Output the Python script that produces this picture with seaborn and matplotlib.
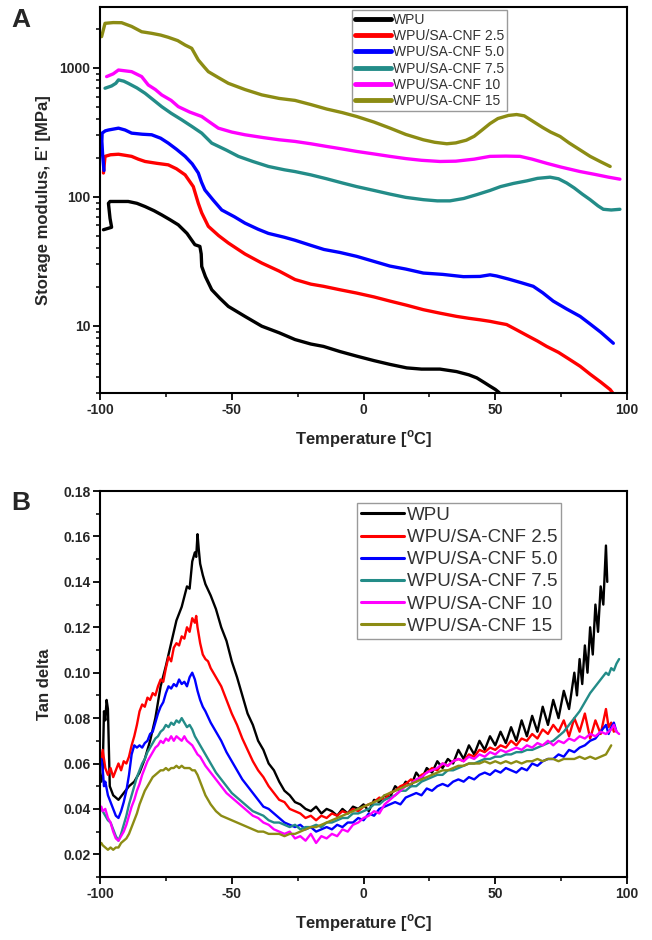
import matplotlib
matplotlib.use("Agg")
import matplotlib.pyplot as plt
import matplotlib.ticker as mticker
import seaborn as sns
import pandas as pd

SAMPLES = ["WPU", "WPU/SA-CNF 2.5", "WPU/SA-CNF 5.0",
           "WPU/SA-CNF 7.5", "WPU/SA-CNF 10", "WPU/SA-CNF 15"]
COLORS = ["#000000", "#ff0000", "#0000ff", "#238c88", "#ff00ff", "#8c8c14"]

X_TICKS = [-100, -50, 0, 50, 100]
E_TICKS = [10, 100, 1000]
TAN_TICKS = [0.02, 0.04, 0.06, 0.08, 0.10, 0.12, 0.14, 0.16, 0.18]

# storage modulus E' [MPa] vs temperature, (T, E')
E_WPU = [(-98.7, 55.5), (-95.6, 58), (-96.2, 68), (-96.8, 89), (-96.2, 92), (-93, 92),
         (-89.3, 92), (-86, 89), (-82.9, 84), (-79.5, 78), (-76.6, 72.4), (-73.5, 66.5),
         (-70.3, 60.6), (-67, 52), (-64, 42.5), (-62.1, 41.2), (-61.6, 36), (-61.4, 28.8),
         (-60, 24), (-57.6, 19), (-54.5, 16.3), (-51.3, 14.1), (-45, 11.8), (-38.6, 9.9),
         (-32, 8.8), (-26, 7.8), (-20, 7.2), (-15.2, 6.9), (-9, 6.3), (-2.6, 5.8),
         (4, 5.35), (10.1, 5.0), (16.4, 4.7), (22, 4.6), (29, 4.6), (35.3, 4.4),
         (40, 4.15), (43, 3.93), (46, 3.6), (48, 3.39), (50, 3.2), (51.5, 3.02)]
E_25 = [(-98.7, 153), (-98.1, 206), (-96, 212), (-93, 214), (-90.5, 210), (-88, 206),
        (-85.5, 196), (-82.9, 188), (-78.5, 182), (-74.1, 177), (-71, 165), (-67.7, 148),
        (-64.6, 120), (-62.7, 89), (-61.4, 75), (-58.9, 59), (-55, 50), (-51.3, 43.8),
        (-45, 36), (-38.6, 30.6), (-32, 26.5), (-26, 22.8), (-20, 21), (-15.2, 20.2),
        (-9, 19), (-2.6, 17.9), (4, 16.7), (10.1, 15.5), (16.4, 14.4), (22.7, 13.3),
        (29, 12.5), (35.3, 11.8), (40, 11.4), (44.2, 11.1), (48, 10.8), (51, 10.5),
        (54.3, 10.2), (58, 9.3), (62, 8.4), (66, 7.6), (69.5, 6.9), (74, 6.2), (78, 5.5),
        (82.2, 4.84), (86, 4.2), (90, 3.65), (93.6, 3.19), (94.5, 3.02)]
E_50 = [(-98.5, 160), (-99, 210), (-99.3, 270), (-99.2, 312), (-98, 325), (-96.8, 330),
        (-93, 341), (-90.5, 330), (-88, 312), (-84, 306), (-80.4, 303), (-77, 285),
        (-74.1, 261), (-71, 234), (-67.7, 206), (-65, 180), (-62.7, 153), (-61.5, 130),
        (-60.2, 113), (-57, 94), (-53.8, 79), (-49, 70), (-45, 62.5), (-40, 56),
        (-36.1, 52), (-30, 48.5), (-26, 46), (-20, 42), (-15, 39), (-9, 37), (-2.6, 34.5),
        (4, 31.5), (10, 29), (16, 27.5), (22.7, 25.6), (30, 25), (37.9, 24), (44.2, 24.1),
        (48, 24.8), (50.5, 24.3), (55, 23), (60, 21.5), (64.4, 20.2), (68, 18), (72, 15.5),
        (77, 13.5), (82.2, 11.8), (86, 10.3), (90, 8.9), (94.8, 7.3)]
E_75 = [(-98.1, 696), (-95.6, 725), (-94, 760), (-93, 808), (-91, 790), (-89.3, 760),
        (-86, 700), (-82.9, 636), (-80, 570), (-76.6, 501), (-73, 445), (-69, 396),
        (-65, 350), (-61.4, 312), (-57.6, 261), (-52, 230), (-47.5, 206), (-42, 188),
        (-36.1, 172), (-30, 162), (-26, 157), (-20, 148), (-14, 138), (-8, 128),
        (-2.6, 120), (4, 112), (10, 105), (16, 99), (22.7, 95), (28, 93), (32.8, 93),
        (38, 97), (43, 104), (48, 112), (52, 120), (56.9, 127), (62, 133), (66, 139),
        (70.8, 142), (74, 138), (77.1, 128), (80, 117), (83, 105), (86, 95), (89, 85),
        (91, 80), (94, 79), (97.3, 80)]
E_10 = [(-97.5, 857), (-95, 900), (-93, 964), (-90.5, 950), (-88, 936), (-84.2, 857),
        (-81.7, 738), (-79, 680), (-76.6, 618), (-73, 560), (-70.3, 501), (-66, 455),
        (-61.4, 420), (-58, 375), (-55.1, 341), (-50, 318), (-45, 303), (-38, 288),
        (-32, 277), (-26, 269), (-20, 258), (-14, 246), (-8, 235), (-2.6, 225), (4, 215),
        (10, 206), (16, 198), (22, 192), (29, 188), (35, 189), (42, 196), (48, 206),
        (54, 207), (59.4, 206), (64, 196), (69.5, 182), (75, 170), (82.2, 157), (88, 149),
        (93, 142), (97.3, 137)]
E_15 = [(-99.4, 1750), (-98.1, 2220), (-95, 2250), (-91.8, 2245), (-88, 2100),
        (-84.2, 1910), (-80.4, 1857), (-77, 1800), (-74.1, 1730), (-70.5, 1630),
        (-67.7, 1506), (-65.2, 1421), (-62.7, 1153), (-60.5, 1020), (-58.9, 936),
        (-55, 840), (-51.3, 760), (-45, 680), (-38.6, 618), (-32, 580), (-26, 560),
        (-20, 520), (-14, 480), (-8, 450), (-2.6, 420), (4, 380), (10.1, 341), (16, 305),
        (22.7, 277), (27, 265), (31.6, 258), (35, 262), (39, 275), (42, 295),
        (45, 330), (48, 370), (51, 405), (55, 428), (58.1, 435), (61, 425),
        (64.4, 384), (68, 345), (71, 318), (74.6, 294), (78, 262), (82.2, 231), (86, 206),
        (90, 187), (93.6, 172)]

# tan delta vs temperature, (T, tan d)
TAN_WPU = [(-99.5, 0.052), (-99, 0.056), (-98.5, 0.083), (-98, 0.079), (-97.5, 0.088),
           (-97, 0.084), (-96.5, 0.06), (-96.3, 0.05), (-95, 0.046), (-93, 0.044),
           (-91, 0.047), (-89, 0.05), (-87, 0.052), (-85, 0.056), (-83, 0.062), (-81, 0.07),
           (-79, 0.08), (-77, 0.094), (-75, 0.103), (-73, 0.113), (-71, 0.123),
           (-69, 0.129), (-67, 0.138), (-66, 0.137), (-65, 0.149), (-64, 0.153),
           (-63.5, 0.151), (-63, 0.161), (-62.5, 0.154), (-62, 0.148), (-61, 0.143),
           (-60, 0.139), (-58, 0.134), (-56, 0.128), (-54, 0.12), (-52, 0.114), (-50, 0.105),
           (-48, 0.098), (-46, 0.09), (-44, 0.082), (-42, 0.077), (-40, 0.07), (-38, 0.066),
           (-36, 0.06), (-34, 0.057), (-32, 0.052), (-30, 0.048), (-28, 0.046), (-26, 0.043),
           (-24, 0.042), (-22, 0.04), (-20, 0.039), (-18, 0.041), (-16, 0.038), (-14, 0.04),
           (-12, 0.039), (-10, 0.037), (-8, 0.04), (-6, 0.038), (-4, 0.041), (-2, 0.04),
           (0, 0.042), (2, 0.039), (4, 0.044), (6, 0.043), (8, 0.046), (10, 0.045),
           (12, 0.05), (14, 0.048), (16, 0.052), (18, 0.05), (20, 0.056), (22, 0.053),
           (24, 0.058), (26, 0.056), (28, 0.061), (30, 0.058), (32, 0.062), (34, 0.06),
           (36, 0.066), (38, 0.062), (40, 0.068), (42, 0.064), (44, 0.07), (46, 0.066),
           (48, 0.072), (50, 0.068), (52, 0.074), (54, 0.069), (56, 0.076), (58, 0.07),
           (60, 0.079), (62, 0.072), (64, 0.081), (66, 0.074), (68, 0.085), (70, 0.077),
           (72, 0.088), (74, 0.08), (76, 0.092), (78, 0.084), (80, 0.1), (81, 0.09),
           (82, 0.106), (83, 0.095), (84, 0.112), (85, 0.1), (86, 0.12), (87, 0.108),
           (88, 0.13), (89, 0.118), (90, 0.138), (91, 0.13), (92, 0.156), (92.5, 0.14)]
TAN_25 = [(-99.5, 0.062), (-99, 0.066), (-98, 0.058), (-97, 0.055), (-96, 0.058),
          (-95, 0.054), (-94, 0.057), (-93, 0.06), (-92, 0.057), (-91, 0.061), (-90, 0.06),
          (-89, 0.063), (-88, 0.068), (-87, 0.072), (-86, 0.077), (-85, 0.083),
          (-84, 0.086), (-83, 0.085), (-82, 0.089), (-81, 0.088), (-80, 0.091), (-79, 0.09),
          (-78, 0.094), (-77, 0.097), (-76, 0.096), (-75, 0.102), (-74, 0.107),
          (-73, 0.105), (-72, 0.111), (-71, 0.113), (-70, 0.112), (-69, 0.116),
          (-68, 0.115), (-67, 0.12), (-66, 0.118), (-65, 0.124), (-64, 0.122),
          (-63.5, 0.125), (-63, 0.12), (-62, 0.113), (-61, 0.108), (-60, 0.106),
          (-59, 0.105), (-58, 0.102), (-56, 0.098), (-54, 0.094), (-52, 0.088), (-50, 0.082),
          (-48, 0.077), (-46, 0.071), (-44, 0.066), (-42, 0.061), (-40, 0.057), (-38, 0.054),
          (-36, 0.05), (-34, 0.047), (-32, 0.044), (-30, 0.043), (-28, 0.04), (-26, 0.039),
          (-24, 0.038), (-22, 0.036), (-20, 0.037), (-18, 0.035), (-16, 0.037), (-14, 0.036),
          (-12, 0.038), (-10, 0.037), (-8, 0.039), (-6, 0.038), (-4, 0.04), (-2, 0.039),
          (0, 0.041), (2, 0.042), (4, 0.043), (6, 0.045), (8, 0.044), (10, 0.047),
          (12, 0.048), (14, 0.05), (16, 0.051), (18, 0.053), (20, 0.052), (22, 0.055),
          (24, 0.056), (26, 0.058), (28, 0.057), (30, 0.06), (32, 0.059), (34, 0.061),
          (36, 0.062), (38, 0.061), (40, 0.064), (42, 0.063), (44, 0.066), (46, 0.065),
          (48, 0.067), (50, 0.066), (52, 0.068), (54, 0.067), (56, 0.07), (58, 0.068),
          (60, 0.071), (62, 0.07), (64, 0.073), (66, 0.071), (68, 0.075), (70, 0.073),
          (72, 0.077), (74, 0.074), (76, 0.079), (78, 0.072), (80, 0.08), (82, 0.074),
          (84, 0.082), (86, 0.071), (88, 0.079), (90, 0.073), (92, 0.084), (93, 0.076),
          (94, 0.078), (95, 0.074)]
TAN_50 = [(-99.5, 0.062), (-99, 0.058), (-98.5, 0.05), (-98, 0.052), (-97, 0.046),
          (-96, 0.043), (-95, 0.04), (-94, 0.037), (-93, 0.036), (-92, 0.039), (-91, 0.043),
          (-90, 0.048), (-89, 0.055), (-88, 0.064), (-87, 0.068), (-86, 0.067),
          (-85, 0.068), (-84, 0.067), (-83, 0.069), (-82, 0.07), (-81, 0.073), (-80, 0.074),
          (-79, 0.078), (-78, 0.082), (-77, 0.085), (-76, 0.087), (-75, 0.091),
          (-74, 0.094), (-73, 0.093), (-72, 0.095), (-71, 0.094), (-70, 0.097),
          (-69, 0.095), (-68, 0.096), (-67, 0.094), (-66, 0.098), (-65, 0.1), (-64, 0.097),
          (-63, 0.092), (-62, 0.088), (-61, 0.085), (-60, 0.083), (-58, 0.078),
          (-56, 0.074), (-54, 0.07), (-52, 0.065), (-50, 0.061), (-48, 0.057), (-46, 0.053),
          (-44, 0.05), (-42, 0.047), (-40, 0.044), (-38, 0.041), (-36, 0.04), (-34, 0.038),
          (-32, 0.036), (-30, 0.034), (-28, 0.033), (-26, 0.032), (-24, 0.033), (-22, 0.031),
          (-20, 0.032), (-18, 0.03), (-16, 0.031), (-14, 0.032), (-12, 0.031), (-10, 0.033),
          (-8, 0.032), (-6, 0.034), (-4, 0.034), (-2, 0.036), (0, 0.035), (2, 0.038),
          (4, 0.037), (6, 0.04), (8, 0.041), (10, 0.042), (12, 0.043), (14, 0.042),
          (16, 0.045), (18, 0.046), (20, 0.047), (22, 0.046), (24, 0.049), (26, 0.048),
          (28, 0.05), (30, 0.051), (32, 0.05), (34, 0.052), (36, 0.053), (38, 0.052),
          (40, 0.054), (42, 0.053), (44, 0.055), (46, 0.056), (48, 0.055), (50, 0.057),
          (52, 0.056), (54, 0.058), (56, 0.057), (58, 0.056), (60, 0.058), (62, 0.057),
          (64, 0.06), (66, 0.059), (68, 0.061), (70, 0.062), (72, 0.062), (74, 0.064),
          (76, 0.063), (78, 0.066), (80, 0.065), (82, 0.067), (84, 0.068), (86, 0.07),
          (88, 0.071), (90, 0.074), (92, 0.077), (93, 0.073), (94, 0.076), (95, 0.078),
          (96, 0.074)]
TAN_75 = [(-99.5, 0.04), (-99, 0.039), (-98, 0.037), (-97, 0.035), (-96, 0.034),
          (-95, 0.031), (-94, 0.028), (-93, 0.026), (-92, 0.029), (-91, 0.033), (-90, 0.037),
          (-89, 0.042), (-88, 0.046), (-87, 0.05), (-86, 0.054), (-85, 0.057), (-84, 0.06),
          (-83, 0.062), (-82, 0.065), (-81, 0.067), (-80, 0.069), (-79, 0.071), (-78, 0.072),
          (-77, 0.074), (-76, 0.075), (-75, 0.077), (-74, 0.076), (-73, 0.078), (-72, 0.077),
          (-71, 0.079), (-70, 0.078), (-69, 0.08), (-68, 0.078), (-67, 0.076), (-66, 0.077),
          (-65, 0.075), (-64, 0.072), (-63, 0.07), (-62, 0.068), (-61, 0.066), (-60, 0.064),
          (-58, 0.06), (-56, 0.056), (-54, 0.053), (-52, 0.05), (-50, 0.047), (-48, 0.045),
          (-46, 0.043), (-44, 0.041), (-42, 0.039), (-40, 0.038), (-38, 0.037), (-36, 0.035),
          (-34, 0.034), (-32, 0.034), (-30, 0.033), (-28, 0.032), (-26, 0.033), (-24, 0.031),
          (-22, 0.032), (-20, 0.032), (-18, 0.033), (-16, 0.032), (-14, 0.034), (-12, 0.034),
          (-10, 0.035), (-8, 0.036), (-6, 0.036), (-4, 0.038), (-2, 0.038), (0, 0.039),
          (2, 0.04), (4, 0.042), (6, 0.042), (8, 0.044), (10, 0.045), (12, 0.046),
          (14, 0.048), (16, 0.048), (18, 0.05), (20, 0.05), (22, 0.052), (24, 0.053),
          (26, 0.054), (28, 0.055), (30, 0.055), (32, 0.057), (34, 0.057), (36, 0.058),
          (38, 0.059), (40, 0.06), (42, 0.06), (44, 0.061), (46, 0.062), (48, 0.062),
          (50, 0.063), (52, 0.063), (54, 0.064), (56, 0.064), (58, 0.065), (60, 0.065),
          (62, 0.066), (64, 0.066), (66, 0.067), (68, 0.068), (70, 0.069), (72, 0.07),
          (74, 0.072), (76, 0.074), (78, 0.077), (80, 0.08), (82, 0.083), (84, 0.087),
          (86, 0.091), (88, 0.094), (90, 0.097), (92, 0.1), (93, 0.099), (94, 0.102),
          (95, 0.101), (96, 0.104), (97, 0.106)]
TAN_10 = [(-99.5, 0.041), (-99, 0.039), (-98, 0.04), (-97, 0.036), (-96, 0.034),
          (-95, 0.03), (-94, 0.027), (-93, 0.026), (-92, 0.028), (-91, 0.03), (-90, 0.033),
          (-89, 0.037), (-88, 0.041), (-87, 0.044), (-86, 0.048), (-85, 0.051), (-84, 0.055),
          (-83, 0.058), (-82, 0.061), (-81, 0.063), (-80, 0.065), (-79, 0.067), (-78, 0.068),
          (-77, 0.07), (-76, 0.069), (-75, 0.071), (-74, 0.07), (-73, 0.072), (-72, 0.07),
          (-71, 0.072), (-70, 0.071), (-69, 0.07), (-68, 0.072), (-67, 0.07), (-66, 0.069),
          (-65, 0.068), (-64, 0.066), (-63, 0.064), (-62, 0.063), (-61, 0.061), (-60, 0.059),
          (-58, 0.056), (-56, 0.053), (-54, 0.05), (-52, 0.047), (-50, 0.045), (-48, 0.043),
          (-46, 0.041), (-44, 0.039), (-42, 0.037), (-40, 0.036), (-38, 0.034), (-36, 0.033),
          (-34, 0.031), (-32, 0.03), (-30, 0.029), (-28, 0.03), (-26, 0.027), (-24, 0.028),
          (-22, 0.026), (-20, 0.029), (-18, 0.025), (-16, 0.028), (-14, 0.027), (-12, 0.029),
          (-10, 0.028), (-8, 0.031), (-6, 0.03), (-4, 0.033), (-2, 0.034), (0, 0.036),
          (2, 0.037), (4, 0.039), (6, 0.038), (8, 0.042), (10, 0.044), (12, 0.046),
          (14, 0.048), (16, 0.05), (18, 0.051), (20, 0.053), (22, 0.054), (24, 0.056),
          (26, 0.057), (28, 0.058), (30, 0.06), (32, 0.059), (34, 0.061), (36, 0.062),
          (38, 0.061), (40, 0.063), (42, 0.062), (44, 0.064), (46, 0.063), (48, 0.065),
          (50, 0.064), (52, 0.066), (54, 0.065), (56, 0.066), (58, 0.067), (60, 0.066),
          (62, 0.068), (64, 0.067), (66, 0.069), (68, 0.068), (70, 0.07), (72, 0.068),
          (74, 0.07), (76, 0.069), (78, 0.071), (80, 0.07), (82, 0.072), (84, 0.071),
          (86, 0.073), (88, 0.072), (90, 0.074), (92, 0.073), (94, 0.075), (95, 0.077),
          (96, 0.074), (97, 0.073)]
TAN_15 = [(-99.5, 0.025), (-99, 0.024), (-98, 0.023), (-97, 0.022), (-96, 0.023),
          (-95, 0.022), (-94, 0.023), (-93, 0.023), (-92, 0.025), (-91, 0.026), (-90, 0.027),
          (-89, 0.029), (-88, 0.032), (-87, 0.035), (-86, 0.038), (-85, 0.042), (-84, 0.045),
          (-83, 0.048), (-82, 0.05), (-81, 0.052), (-80, 0.054), (-79, 0.055), (-78, 0.056),
          (-77, 0.057), (-76, 0.057), (-75, 0.058), (-74, 0.057), (-73, 0.058), (-72, 0.058),
          (-71, 0.059), (-70, 0.058), (-69, 0.059), (-68, 0.058), (-67, 0.058), (-66, 0.058),
          (-65, 0.057), (-64, 0.057), (-63, 0.055), (-62, 0.052), (-61, 0.049), (-60, 0.046),
          (-58, 0.042), (-56, 0.039), (-54, 0.037), (-52, 0.036), (-50, 0.035), (-48, 0.034),
          (-46, 0.033), (-44, 0.032), (-42, 0.031), (-40, 0.03), (-38, 0.03), (-36, 0.029),
          (-34, 0.029), (-32, 0.029), (-30, 0.028), (-28, 0.029), (-26, 0.029), (-24, 0.03),
          (-22, 0.031), (-20, 0.032), (-18, 0.032), (-16, 0.033), (-14, 0.034), (-12, 0.035),
          (-10, 0.036), (-8, 0.037), (-6, 0.038), (-4, 0.039), (-2, 0.04), (0, 0.041),
          (2, 0.042), (4, 0.043), (6, 0.044), (8, 0.046), (10, 0.047), (12, 0.048),
          (14, 0.049), (16, 0.05), (18, 0.051), (20, 0.052), (22, 0.053), (24, 0.054),
          (26, 0.055), (28, 0.056), (30, 0.057), (32, 0.057), (34, 0.058), (36, 0.059),
          (38, 0.059), (40, 0.06), (42, 0.06), (44, 0.06), (46, 0.061), (48, 0.06),
          (50, 0.061), (52, 0.06), (54, 0.061), (56, 0.06), (58, 0.061), (60, 0.06),
          (62, 0.061), (64, 0.061), (66, 0.062), (68, 0.061), (70, 0.062), (72, 0.062),
          (74, 0.061), (76, 0.062), (78, 0.062), (80, 0.062), (82, 0.063), (84, 0.062),
          (86, 0.063), (88, 0.062), (90, 0.063), (92, 0.064), (93, 0.066), (94, 0.068)]


def long_frame(series, value_col):
    parts = []
    for name, pts in zip(SAMPLES, series):
        d = pd.DataFrame(pts, columns=["T", value_col])
        d["sample"] = name
        parts.append(d)
    return pd.concat(parts, ignore_index=True)


def style_axis(ax):
    for s in ax.spines.values():
        s.set_visible(True)
        s.set_color("black")
        s.set_linewidth(1.5)
    ax.tick_params(which="major", direction="out", length=5, width=1.3,
                   color="black", labelsize=10, pad=2)
    ax.tick_params(which="minor", direction="out", length=3, width=1.1, color="black")
    ax.set_xlim(-100, 100)
    ax.set_xticks(X_TICKS, labels=[str(t) for t in X_TICKS], fontweight="bold")
    ax.xaxis.set_minor_locator(mticker.MultipleLocator(25))
    ax.set_xlabel("Temperature [$^{\\rm o}$C]", fontsize=12, fontweight="bold", labelpad=8)


def restyle_legend(ax, anchor, fontsize, lw, spacing, hlen):
    handles, labels = ax.get_legend_handles_labels()
    leg = ax.legend(handles, labels, loc="upper left", bbox_to_anchor=anchor,
                    fontsize=fontsize, frameon=True, fancybox=False, framealpha=1,
                    edgecolor="#9a9a9a", borderpad=0.2, labelspacing=spacing,
                    handlelength=hlen, handletextpad=0.15, borderaxespad=0)
    leg.get_frame().set_linewidth(1.0)
    for line in leg.get_lines():
        line.set_linewidth(lw)
    for t in leg.get_texts():
        t.set_color("#333333")


def main():
    sns.set_theme(style="ticks")
    plt.rcParams["font.family"] = ["Liberation Sans", "DejaVu Sans"]
    plt.rcParams["mathtext.fontset"] = "custom"
    plt.rcParams["mathtext.rm"] = "Liberation Sans:bold"

    fig = plt.figure(figsize=(6.52, 9.4), dpi=100)
    ax1 = fig.add_axes([0.1534, 0.5819, 0.8083, 0.4106])
    ax2 = fig.add_axes([0.1534, 0.0670, 0.8083, 0.4106])

    df_e = long_frame([E_WPU, E_25, E_50, E_75, E_10, E_15], "E")
    sns.lineplot(data=df_e, x="T", y="E", hue="sample", hue_order=SAMPLES,
                 palette=COLORS, estimator=None, sort=False, lw=2.4, ax=ax1)
    ax1.set_yscale("log")
    ax1.set_ylim(3, 2970)
    ax1.set_yticks(E_TICKS, labels=[str(t) for t in E_TICKS], fontweight="bold")
    ax1.yaxis.set_minor_locator(mticker.LogLocator(base=10, subs=range(2, 10)))
    ax1.yaxis.set_minor_formatter(mticker.NullFormatter())
    style_axis(ax1)
    ax1.set_ylabel("Storage modulus, E' [MPa]", fontsize=12, fontweight="bold", labelpad=6)
    restyle_legend(ax1, (0.478, 0.992), 10, 3.5, 0.16, 2.6)

    df_t = long_frame([TAN_WPU, TAN_25, TAN_50, TAN_75, TAN_10, TAN_15], "tan")
    sns.lineplot(data=df_t, x="T", y="tan", hue="sample", hue_order=SAMPLES,
                 palette=COLORS, estimator=None, sort=False, lw=1.7, ax=ax2)
    ax2.set_ylim(0.01, 0.18)
    ax2.set_yticks(TAN_TICKS, labels=[f"{t:.2f}" for t in TAN_TICKS], fontweight="bold")
    ax2.yaxis.set_minor_locator(mticker.MultipleLocator(0.01))
    style_axis(ax2)
    ax2.set_ylabel("Tan delta", fontsize=12, fontweight="bold", labelpad=8)
    restyle_legend(ax2, (0.488, 0.969), 13.5, 2.2, 0.27, 2.3)

    fig.text(0.018, 0.992, "A", fontsize=19, fontweight="bold", va="top", ha="left")
    fig.text(0.018, 0.478, "B", fontsize=19, fontweight="bold", va="top", ha="left")

    fig.savefig("out.png", dpi=100)
    plt.close(fig)


if __name__ == "__main__":
    main()
